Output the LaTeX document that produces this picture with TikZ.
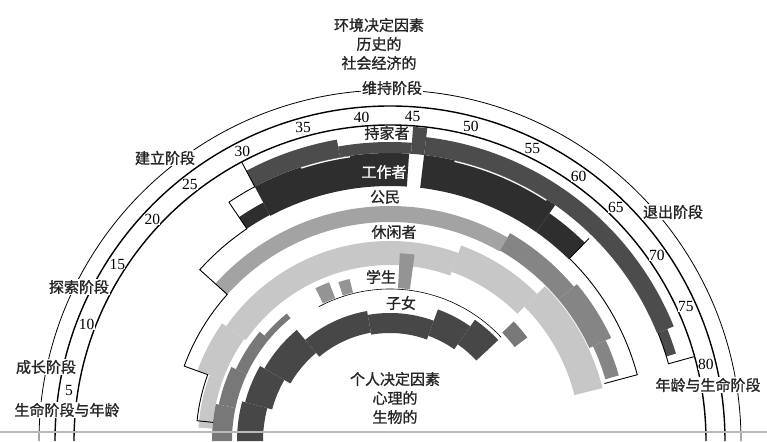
\documentclass[tikz,border=0pt]{standalone}
\usepackage{fontspec}
\setmainfont{Liberation Serif}
\newfontfamily\cjk[FakeBold=1.2]{Noto Sans CJK SC}
\definecolor{workc}{gray}{0.18}
\definecolor{homec}{gray}{0.30}
\definecolor{citc}{gray}{0.52}
\definecolor{citl}{gray}{0.64}
\definecolor{leisc}{gray}{0.78}
\definecolor{studc}{gray}{0.47}
\definecolor{studl}{gray}{0.58}
\definecolor{childc}{gray}{0.28}
\tikzset{
  lab/.style={font=\cjk\fontsize{15}{19}\selectfont, inner sep=1pt, text=black!85},
  stage/.style={lab, fill=white},
  age/.style={font=\fontsize{15.5}{15.5}\selectfont, fill=white, inner sep=0.2pt},
  ring/.style={line width=1.4pt},
  rim/.style={line width=0.9pt, line join=miter},
}
% annular piece: colour, from angle, to angle, inner r, outer r
\newcommand{\band}[5]{%
  \fill[#1] (#2:#4) arc[start angle=#2, end angle=#3, radius=#4]
    -- (#3:#5) arc[start angle=#3, end angle=#2, radius=#5] -- cycle;}
\begin{document}
\begin{tikzpicture}[x=1pt, y=1pt]
\useasboundingbox (-390,0) rectangle (377,441);

% leisure
\band{leisc}{176}{160}{178}{192}
\band{leisc}{160}{145}{178}{205}
\band{leisc}{145}{70}{176}{200}
\band{leisc}{70}{45}{180}{208}
\band{leisc}{45}{14}{190}{219}
% citizen
\band{citl}{138}{60}{219}{235}
\band{citc}{60}{40}{220}{240}
\band{citc}{40}{25}{220}{244}
\band{citc}{25}{16}{224}{238}
% student
\band{studc}{180}{168}{158}{178}
\band{studc}{168}{155}{158}{175}
\band{studc}{155}{140}{158}{170}
\band{studc}{140}{129}{158}{164}
\band{studl}{116}{111}{153}{170}
\band{studl}{108}{104}{153}{167}
\band{studl}{87}{82.5}{153}{188}
\band{studc}{44}{37}{156}{172}
% child
\band{childc}{180}{165}{127}{153}
\band{childc}{165}{150}{122}{150}
\band{childc}{150}{130}{115}{145}
\band{childc}{130}{100}{110}{132}
\band{childc}{100}{70}{108}{128}
\band{childc}{70}{55}{112}{140}
\band{childc}{55}{43}{118}{148}
% worker
\band{workc}{124}{118}{256}{270}
\band{workc}{118}{86.2}{255}{288}
\band{workc}{83.2}{55}{255}{288}
\band{workc}{55}{45.5}{255}{278}
% homemaker
\band{homec}{118}{100}{288}{306}
\band{homec}{100}{85.8}{288}{299}
\band{homec}{85.8}{83.2}{288}{315}
\band{homec}{83.2}{22}{288}{306}
\band{homec}{22}{17}{289}{299}
\draw[white, line width=1.3pt] (108:287) arc[start angle=108, end angle=98, radius=287];
\draw[white, line width=1.3pt] (77:287) arc[start angle=77, end angle=57, radius=287];

% outlines
\draw[rim] (118:316) -- (118:288) arc[start angle=118, end angle=124, radius=288]
  -- (124:256) arc[start angle=124, end angle=138, radius=256]
  -- (138:219) arc[start angle=138, end angle=160, radius=219]
  -- (160:194) arc[start angle=160, end angle=174, radius=194] -- (174:178);
\draw[rim] (45.5:284) -- (45.5:256) arc[start angle=45.5, end angle=15, radius=256] -- (15:222);
\draw[rim] (22:289) arc[start angle=22, end angle=15.5, radius=289] -- (15.5:316);
\draw[line width=0.6pt] (118:152) arc[start angle=118, end angle=43, radius=152];

% life stage arcs
\draw[line width=0.8pt] (180:351) arc[start angle=180, end angle=0, radius=351];
\draw[ring] (180:335) arc[start angle=180, end angle=0, radius=335];
\draw[ring] (180:316) arc[start angle=180, end angle=0, radius=316];
\draw[gray!55, line width=1.2pt] (-390,9) -- (377,9);

\foreach \a/\t in {5/171,10/159,15/147,20/137,25/128,30/117,35/105.5,40/95,
  45/86,50/75.6,55/64,60/54.5,65/46,70/34.8,75/24.4,80/13.6}
  \node[age] (n\a) at (\t:325) {\a};

\node[stage] (grow) at (-344,74) {成长阶段};
\node[stage] (explore) at (-311,154) {探索阶段};
\node[stage] (establish) at (-225,283) {建立阶段};
\node[stage] (maintain) at (2,353) {维持阶段};
\node[stage] (decline) at (283,229) {退出阶段};
\node[stage] (stageL) at (-323,31) {生命阶段与年龄};
\node[stage] (stageR) at (318,56) {年龄与生命阶段};

\node[lab, align=center] (env) at (-11,397) {环境决定因素\\历史的\\社会经济的};
\node[lab, align=center] (self) at (5,43) {个人决定因素\\心理的\\生物的};

\node[lab] (home) at (-3,308) {持家者};
\node[lab, text=white] (work) at (-6,269) {工作者};
\node[lab] (citizen) at (-5,244) {公民};
\node[lab] (leisure) at (4,209) {休闲者};
\node[lab] (student) at (-9,164) {学生};
\node[lab] (child) at (11,138) {子女};
\end{tikzpicture}
\end{document}
